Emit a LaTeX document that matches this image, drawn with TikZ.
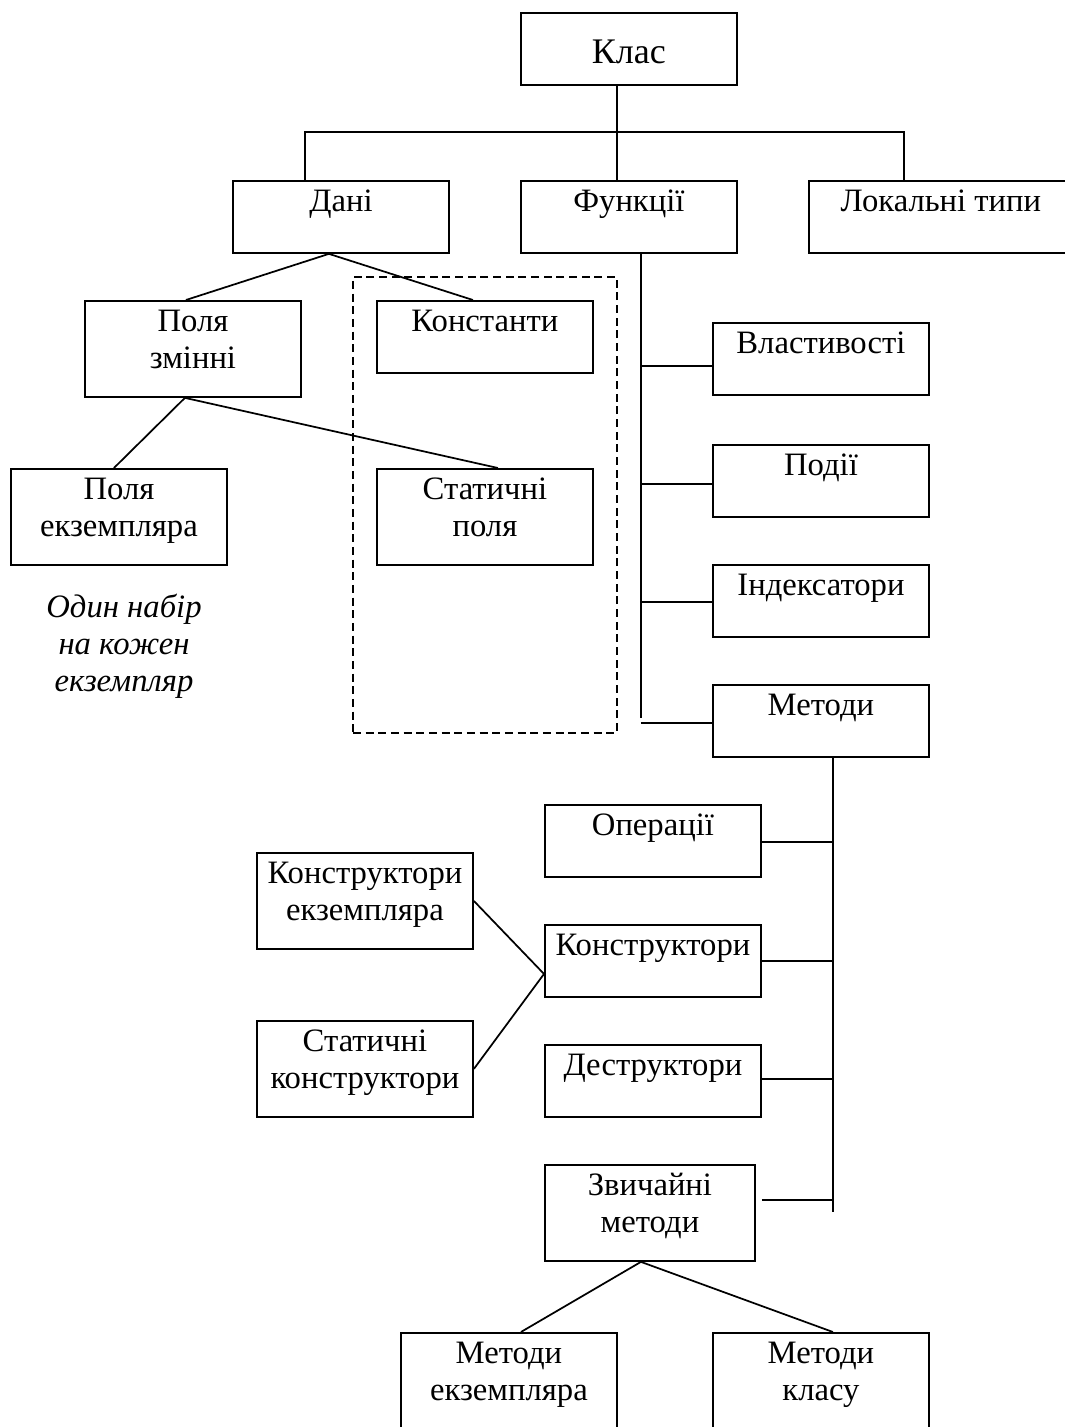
\documentclass[tikz,border=0pt]{standalone}
\usepackage{fontspec}
\setmainfont{Liberation Serif}
\usetikzlibrary{calc}
\newcommand\bxtext[3]{\parbox[c][#2][t]{#1}{\centering\rule{0pt}{23.25pt}#3}}
\begin{document}
\begin{tikzpicture}[x=0.75pt,y=-0.75pt,
  every node/.style={font=\fontsize{24.5}{27.75}\selectfont},
  box/.style={draw, inner sep=0pt, anchor=north west, line width=1.4pt},
  conn/.style={line width=1.3pt},
  grp/.style={draw, line width=1.3pt, dash pattern=on 6pt off 3.5pt, inner sep=0pt, anchor=north west}]
\useasboundingbox (0,0) rectangle (1064,1427);

% top level
\node[box] (klas) at (520,12) {\parbox[c][54pt][t]{162pt}{\centering\fontsize{27}{32}\selectfont\rule{0pt}{38.25pt}Клас}};
\node[box] (dani) at (232,180) {\bxtext{162pt}{54pt}{Дані}};
\node[box] (funk) at (520,180) {\bxtext{162pt}{54pt}{Функції}};
\node[box] (lok) at (808,180) {\bxtext{198pt}{54pt}{Локальні типи}};

% data
\node[grp, minimum width=198pt, minimum height=342pt] (grp) at (352,276) {};
\node[box] (polya) at (84,300) {\bxtext{162pt}{72pt}{Поля\\змінні}};
\node[box] (konst) at (376,300) {\bxtext{162pt}{54pt}{Константи}};
\node[box] (pekz) at (10,468) {\bxtext{162pt}{72pt}{Поля\\екземпляра}};
\node[box] (stat) at (376,468) {\bxtext{162pt}{72pt}{Статичні\\поля}};
\node[inner sep=0pt, anchor=north] (note) at (124,586) {\parbox[t]{200pt}{\centering\itshape\rule{0pt}{23.25pt}Один набір\\на кожен\\екземпляр}};

% functions
\node[box] (vlast) at (712,322) {\bxtext{162pt}{54pt}{Властивості}};
\node[box] (podii) at (712,444) {\bxtext{162pt}{54pt}{Події}};
\node[box] (indeks) at (712,564) {\bxtext{162pt}{54pt}{Індексатори}};
\node[box] (metody) at (712,684) {\bxtext{162pt}{54pt}{Методи}};

% methods
\node[box] (oper) at (544,804) {\bxtext{162pt}{54pt}{Операції}};
\node[box] (konstr) at (544,924) {\bxtext{162pt}{54pt}{Конструктори}};
\node[box] (destr) at (544,1044) {\bxtext{162pt}{54pt}{Деструктори}};
\node[box] (zvych) at (544,1164) {\bxtext{157.5pt}{72pt}{Звичайні\\методи}};
\node[box] (konekz) at (256,852) {\bxtext{162pt}{72pt}{Конструктори\\екземпляра}};
\node[box] (statkon) at (256,1020) {\bxtext{162pt}{72pt}{Статичні\\конструктори}};
\node[box] (metekz) at (400,1332) {\bxtext{162pt}{81pt}{Методи\\екземпляра}};
\node[box] (metkl) at (712,1332) {\bxtext{162pt}{81pt}{Методи\\класу}};

% connectors: class level
\draw[conn] ($(klas.south)+(-12,0)$) -- ($(funk.north)+(-12,0)$);
\draw[conn] ($(dani.north)+(-36,0)$) -- ++(0,-48) -| ($(lok.north west)+(96,0)$);

% data tree
\draw[conn] ($(polya.north)+(-7,0)$) -- ($(dani.south)+(-12,0)$) -- ($(konst.north)+(-12,0)$);
\draw[conn] ($(pekz.north)+(-5,0)$) -- ($(polya.south)+(-8,0)$) -- ($(stat.north)+(13,0)$);

% functions bus
\coordinate (fv) at ($(funk.south)+(12,0)$);
\draw[conn] (fv) -- (fv |- 0,718);
\draw[conn] (fv |- 0,366) -- (vlast.west |- 0,366);
\draw[conn] (fv |- 0,484) -- (podii.west |- 0,484);
\draw[conn] (fv |- 0,602) -- (indeks.west |- 0,602);
\draw[conn] (fv |- 0,723) -- (metody.west |- 0,723);

% methods bus
\coordinate (mv) at ($(metody.south)+(12,0)$);
\draw[conn] (mv) -- (mv |- 0,1212);
\draw[conn] (oper.east |- 0,842) -- (mv |- 0,842);
\draw[conn] (konstr.east |- 0,961) -- (mv |- 0,961);
\draw[conn] (destr.east |- 0,1079) -- (mv |- 0,1079);
\draw[conn] ($(zvych.east |- 0,1200)+(6,0)$) -- (mv |- 0,1200);

% constructors
\draw[conn] (konekz.east) -- ($(konstr.west)+(0,13)$) -- (statkon.east);

% ordinary methods
\draw[conn] ($(metekz.north)+(12,0)$) -- ($(zvych.south)+(-9,0)$) -- ($(metkl.north)+(12,0)$);
\end{tikzpicture}
\end{document}
